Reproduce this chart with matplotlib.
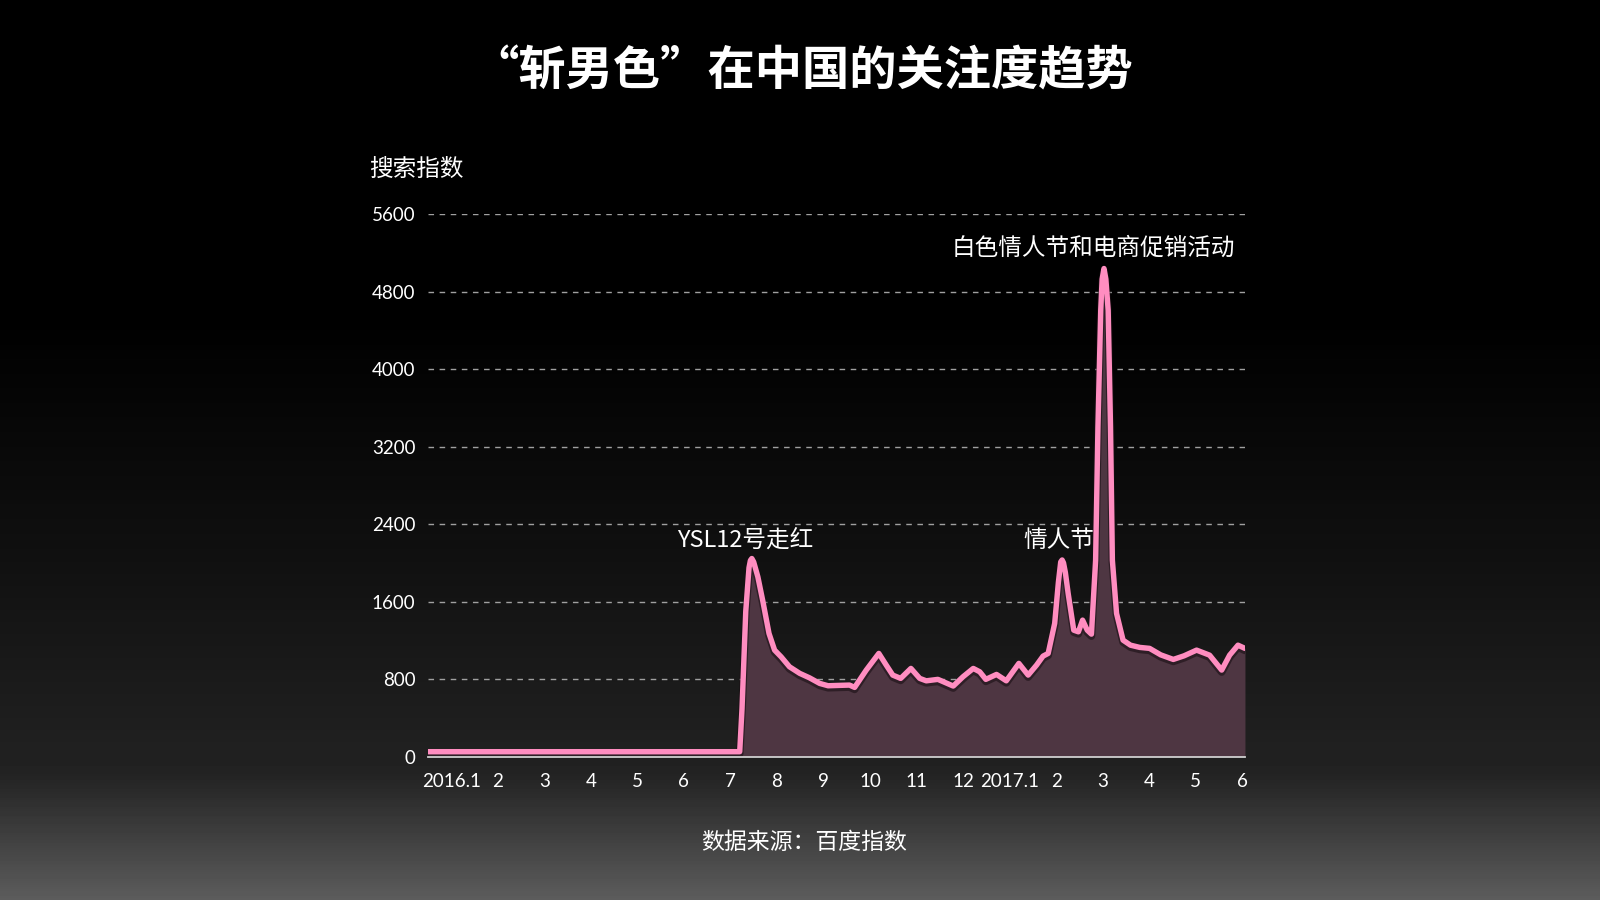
import matplotlib
matplotlib.use("Agg")
import matplotlib.pyplot as plt
import numpy as np

plt.rcParams['font.family'] = ['Noto Sans CJK SC', 'DejaVu Sans']

# month position (0 = 2016.1) and Baidu search index
month_pos = [-0.5, 6.20, 6.25, 6.33, 6.40, 6.43, 6.46, 6.50, 6.59, 6.70, 6.83, 6.95,
             7.09, 7.27, 7.49, 7.70, 7.92, 8.10, 8.35, 8.56, 8.67, 8.92,
             9.19, 9.35, 9.49, 9.66, 9.88, 10.07, 10.21, 10.46, 10.79, 11.00,
             11.22, 11.36, 11.49, 11.72, 11.93, 12.20, 12.40, 12.58, 12.72, 12.83,
             12.97, 13.05, 13.10, 13.13, 13.16, 13.20, 13.26, 13.38, 13.48, 13.57,
             13.67, 13.76, 13.85, 13.90, 13.96, 13.99, 14.03, 14.07, 14.12, 14.17,
             14.21, 14.30, 14.44, 14.60, 14.80, 15.01, 15.25, 15.52, 15.75, 16.02,
             16.30, 16.56, 16.73, 16.91, 17.06]
search_idx = [50, 50, 500, 1500, 1950, 2025, 2045, 2010, 1856, 1598, 1271, 1099,
              1030, 927, 859, 813, 755, 731, 735, 738, 714, 893,
              1065, 944, 841, 807, 910, 807, 782, 797, 728, 824,
              910, 875, 797, 848, 782, 962, 841, 944, 1037, 1065,
              1375, 1800, 2010, 2030, 2000, 1900, 1684, 1305, 1288, 1409,
              1305, 1264, 2028, 3404, 4608, 4930, 5040, 4930, 4608, 3404,
              2028, 1478, 1202, 1150, 1127, 1117, 1050, 1003, 1040, 1099,
              1047, 893, 1047, 1150, 1117]

month_labels = ['2016.1', '2', '3', '4', '5', '6', '7', '8', '9', '10', '11', '12',
                '2017.1', '2', '3', '4', '5', '6']
y_ticks = [0, 800, 1600, 2400, 3200, 4000, 4800, 5600]

notes = ['YSL12号走红', '情人节', '白色情人节和电商促销活动']
note_x = [6.31, 13.06, 13.81]
note_y = [2230, 2230, 5250]

fig = plt.figure(figsize=(16, 9), dpi=100)

# background: black fading to grey at the bottom
bg = fig.add_axes([0, 0, 1, 1], zorder=-10)
yy = np.linspace(0, 1, 300)
shade = np.interp(yy, [0, 0.35, 0.62, 0.86, 1.0], [0.0, 0.0, 0.065, 0.135, 0.36])
bg.imshow(np.tile(shade[:, None], (1, 4)), cmap='gray', vmin=0, vmax=1,
          aspect='auto', extent=[0, 1, 1, 0])
bg.set_axis_off()

ax = fig.add_axes([0.2675, 0.1594, 0.5106, 0.6025])
ax.patch.set_alpha(0)

ax.fill_between(month_pos, 0, search_idx, color='#4e3642', lw=0, zorder=1)
ax.plot(month_pos, search_idx, color='#1a0f14', lw=5.5, alpha=0.6,
        solid_joinstyle='round', solid_capstyle='round', zorder=2,
        transform=ax.transData + matplotlib.transforms.ScaledTranslation(0, -2 / 100, fig.dpi_scale_trans))
ax.plot(month_pos, search_idx, color='#ff8dc0', lw=3.9,
        solid_joinstyle='round', solid_capstyle='round', zorder=3)

ax.set_xlim(-0.5, 17.06)
ax.set_ylim(0, 5600)
ax.set_yticks(y_ticks)
ax.set_yticklabels([str(v) for v in y_ticks], family=['Lato', 'DejaVu Sans'],
                   fontsize=13.5, color='white')
ax.set_xticks(range(len(month_labels)))
ax.set_xticklabels(month_labels, family=['Lato', 'DejaVu Sans'],
                   fontsize=13.5, color='white')
ax.tick_params(axis='both', length=0)
ax.tick_params(axis='y', pad=9)
ax.tick_params(axis='x', pad=12)

for v in y_ticks[1:]:
    ax.axhline(v, color='#a0a0a0', lw=1, ls=(0, (4, 4)), zorder=0)

for s in ['top', 'right', 'left']:
    ax.spines[s].set_visible(False)
ax.spines['bottom'].set_color('#d0d0d0')
ax.spines['bottom'].set_linewidth(1.3)
ax.spines['bottom'].set_zorder(4)

for t, x, y in zip(notes, note_x, note_y):
    ax.text(x, y, t, ha='center', va='center', fontsize=17, color='white')

fig.text(0.5016, 0.921, '“斩男色”在中国的关注度趋势', ha='center', va='center',
         fontsize=34, fontweight='bold', color='white')
fig.text(0.2306, 0.8118, '搜索指数', ha='left', va='center', fontsize=17, color='white')
fig.text(0.5025, 0.0644, '数据来源：百度指数', ha='center', va='center',
         fontsize=16.5, color='white')

fig.savefig('out.png', dpi=100, facecolor='black')
